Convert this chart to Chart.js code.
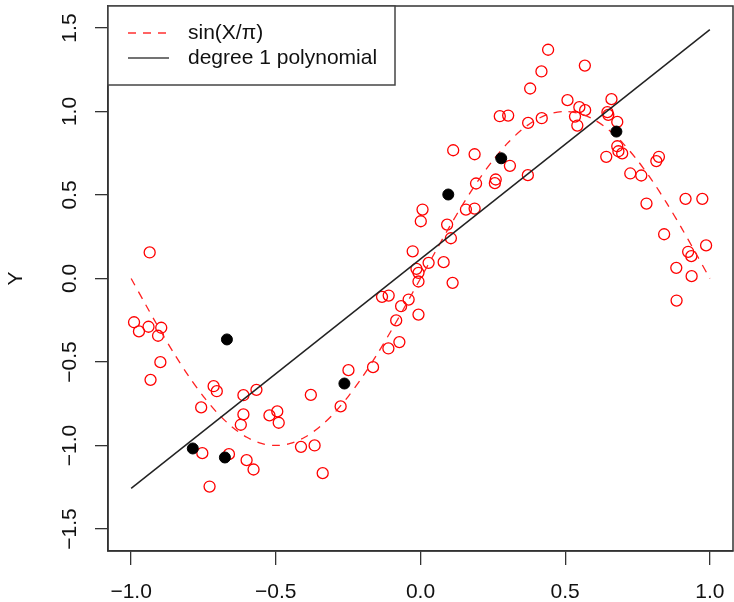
<!DOCTYPE html>
<html>
<head>
<meta charset="utf-8">
<script src="https://cdn.jsdelivr.net/npm/chart.js@4.4.1/dist/chart.umd.min.js"></script>
<style>
  html, body { margin: 0; padding: 0; background: #ffffff; }
  #wrap { width: 734px; height: 602px; position: relative; }
</style>
</head>
<body>
<div id="wrap"><canvas id="c" width="734" height="602"></canvas></div>
<script>
// ---- data ----
const redX = [-0.990,-0.973,-0.940,-0.896,-0.907,-0.899,-0.933,-0.936,-0.715,-0.704,
  -0.758,-0.612,-0.567,-0.612,-0.621,-0.522,-0.495,-0.490,-0.379,-0.754,
  -0.662,-0.601,-0.577,-0.729,-0.413,-0.366,-0.338,-0.276,-0.249,-0.164,
  -0.111,-0.073,-0.084,-0.067,-0.041,-0.133,-0.110,-0.007,-0.007,0.111,
  -0.014,-0.007,-0.027,0.028,0.080,0.105,0.092,0.001,0.007,0.157,
  0.187,0.192,0.260,0.257,0.113,0.187,0.309,0.371,0.274,0.303,
  0.372,0.419,0.379,0.418,0.441,0.508,0.568,0.549,0.569,0.534,
  0.542,0.646,0.649,0.660,0.680,0.680,0.684,0.697,0.642,0.824,
  0.815,0.725,0.763,0.781,0.916,0.974,0.842,0.925,0.936,0.987,
  0.884,0.937,0.885];
const redY = [-0.262,-0.317,-0.289,-0.295,-0.343,-0.501,-0.607,0.156,-0.645,-0.675,
  -0.772,-0.699,-0.667,-0.814,-0.876,-0.820,-0.796,-0.864,-0.697,-1.046,
  -1.052,-1.088,-1.144,-1.246,-1.008,-1.000,-1.166,-0.766,-0.549,-0.531,
  -0.419,-0.381,-0.251,-0.166,-0.126,-0.110,-0.102,-0.216,-0.018,-0.026,
  0.058,0.034,0.163,0.094,0.098,0.241,0.323,0.343,0.413,0.413,
  0.419,0.569,0.593,0.571,0.768,0.744,0.675,0.619,0.972,0.976,
  0.932,0.960,1.138,1.240,1.370,1.068,1.275,1.026,1.008,0.970,
  0.916,0.996,0.980,1.074,0.938,0.792,0.762,0.749,0.729,0.729,
  0.703,0.629,0.617,0.449,0.477,0.477,0.265,0.160,0.134,0.198,
  0.064,0.014,-0.132];

const blackX = [-0.787,-0.676,-0.669,-0.263,0.096,0.279,0.677];
const blackY = [-1.018,-1.072,-0.365,-0.629,0.503,0.720,0.880];

const curveX = [-1,-0.95,-0.9,-0.85,-0.8,-0.75,-0.7,-0.65,-0.6,-0.55,-0.5,-0.45,-0.4,-0.35,-0.3,-0.25,-0.2,-0.15,-0.1,-0.05,
  0,0.05,0.1,0.15,0.2,0.25,0.3,0.35,0.4,0.45,0.5,0.55,0.6,0.65,0.7,0.75,0.8,0.85,0.9,0.95,1];
const curveY = [0,-0.156,-0.309,-0.454,-0.588,-0.707,-0.809,-0.891,-0.951,-0.988,-1,-0.988,-0.951,-0.891,-0.809,-0.707,-0.588,-0.454,-0.309,-0.156,
  0,0.156,0.309,0.454,0.588,0.707,0.809,0.891,0.951,0.988,1,0.988,0.951,0.891,0.809,0.707,0.588,0.454,0.309,0.156,0];

const fitX = [-1, 1];
const fitY = [-1.257, 1.490];

const xTicks = [-1.0, -0.5, 0.0, 0.5, 1.0];
const yTicks = [-1.5, -1.0, -0.5, 0.0, 0.5, 1.0, 1.5];

const legendLabels = ['sin(X/\u03C0)', 'degree 1 polynomial'];
const yTitle = 'Y';

// ---- build ----
const FONT = "'Liberation Sans', Arial, sans-serif";
const zip = (xs, ys) => xs.map((x, i) => ({x: x, y: ys[i]}));
const fmt = v => Number(v).toFixed(1).replace('-', '\u2212');
const noPad = s => { s.paddingTop = 0; s.paddingBottom = 0; s.paddingLeft = 0; s.paddingRight = 0; };

const framePlugin = {
  id: 'frame',
  afterDatasetsDraw(chart) {
    const {ctx, chartArea: a} = chart;
    ctx.save();
    ctx.strokeStyle = '#333';
    ctx.lineWidth = 1.5;
    ctx.strokeRect(a.left, a.top, a.right - a.left, a.bottom - a.top);
    ctx.restore();
  }
};

const legendPlugin = {
  id: 'boxLegend',
  afterDraw(chart) {
    const {ctx, chartArea: a} = chart;
    const bx = a.left, by = a.top, bw = 287, bh = 79;
    ctx.save();
    ctx.fillStyle = '#fff';
    ctx.fillRect(bx, by, bw, bh);
    ctx.strokeStyle = '#444';
    ctx.lineWidth = 1.5;
    ctx.strokeRect(bx, by, bw, bh);
    // red dashed sample
    ctx.strokeStyle = '#ff3030';
    ctx.lineWidth = 1.3;
    ctx.setLineDash([8, 7]);
    ctx.beginPath(); ctx.moveTo(bx + 20, by + 27); ctx.lineTo(bx + 61, by + 27); ctx.stroke();
    // black solid sample
    ctx.setLineDash([]);
    ctx.strokeStyle = '#444';
    ctx.lineWidth = 1.5;
    ctx.beginPath(); ctx.moveTo(bx + 20, by + 52); ctx.lineTo(bx + 61, by + 52); ctx.stroke();
    ctx.fillStyle = '#111';
    ctx.font = '21px ' + FONT;
    ctx.textBaseline = 'middle';
    ctx.textAlign = 'left';
    ctx.fillText(legendLabels[0], bx + 80, by + 27);
    ctx.fillText(legendLabels[1], bx + 80, by + 52);
    ctx.restore();
  }
};

new Chart(document.getElementById('c'), {
  type: 'scatter',
  data: {
    datasets: [
      {
        label: 'points',
        data: zip(redX, redY),
        pointStyle: 'circle',
        pointRadius: 5.5,
        pointBorderWidth: 1.3,
        pointBorderColor: '#ff0000',
        pointBackgroundColor: 'rgba(0,0,0,0)',
        borderColor: '#ff0000',
        backgroundColor: 'rgba(0,0,0,0)',
        order: 4
      },
      {
        label: legendLabels[0],
        data: zip(curveX, curveY),
        showLine: true,
        borderColor: '#ff2020',
        borderWidth: 1.3,
        borderDash: [8, 7],
        pointRadius: 0,
        tension: 0.3,
        fill: false,
        order: 3
      },
      {
        label: legendLabels[1],
        data: zip(fitX, fitY),
        showLine: true,
        borderColor: '#222',
        borderWidth: 1.5,
        pointRadius: 0,
        fill: false,
        order: 2
      },
      {
        label: 'sample',
        data: zip(blackX, blackY),
        pointStyle: 'circle',
        pointRadius: 5.5,
        pointBorderWidth: 1,
        pointBorderColor: '#000',
        pointBackgroundColor: '#000',
        order: 1
      }
    ]
  },
  options: {
    responsive: false,
    animation: false,
    devicePixelRatio: 1,
    layout: { autoPadding: false, padding: { top: 6, right: 1, left: 0, bottom: 0 } },
    plugins: { legend: { display: false }, tooltip: { enabled: false } },
    scales: {
      x: {
        type: 'linear',
        min: -1.08, max: 1.08,
        afterBuildTicks: s => { s.ticks = xTicks.map(v => ({value: v})); },
        afterFit: s => { s.height = 51; noPad(s); },
        ticks: {
          autoSkip: false,
          maxRotation: 0,
          padding: 15,
          color: '#111',
          font: { family: FONT, size: 21 },
          callback: v => fmt(v)
        },
        grid: { drawOnChartArea: false, drawTicks: true, tickLength: 14, color: '#333', lineWidth: 1.3 },
        border: { display: true, color: '#333', width: 1.5 }
      },
      y: {
        type: 'linear',
        min: -1.632, max: 1.632,
        afterBuildTicks: s => { s.ticks = yTicks.map(v => ({value: v})); },
        afterFit: s => { s.width = 108; noPad(s); },
        title: {
          display: true,
          text: yTitle,
          color: '#111',
          font: { family: FONT, size: 21 },
          padding: { top: 4, bottom: 0 }
        },
        ticks: {
          autoSkip: false,
          minRotation: 90,
          maxRotation: 90,
          crossAlign: 'center',
          padding: 4,
          color: '#111',
          font: { family: FONT, size: 21 },
          callback: v => fmt(v)
        },
        grid: { drawOnChartArea: false, drawTicks: true, tickLength: 13, color: '#333', lineWidth: 1.3 },
        border: { display: true, color: '#333', width: 1.5 }
      }
    }
  },
  plugins: [framePlugin, legendPlugin]
});
</script>
</body>
</html>
